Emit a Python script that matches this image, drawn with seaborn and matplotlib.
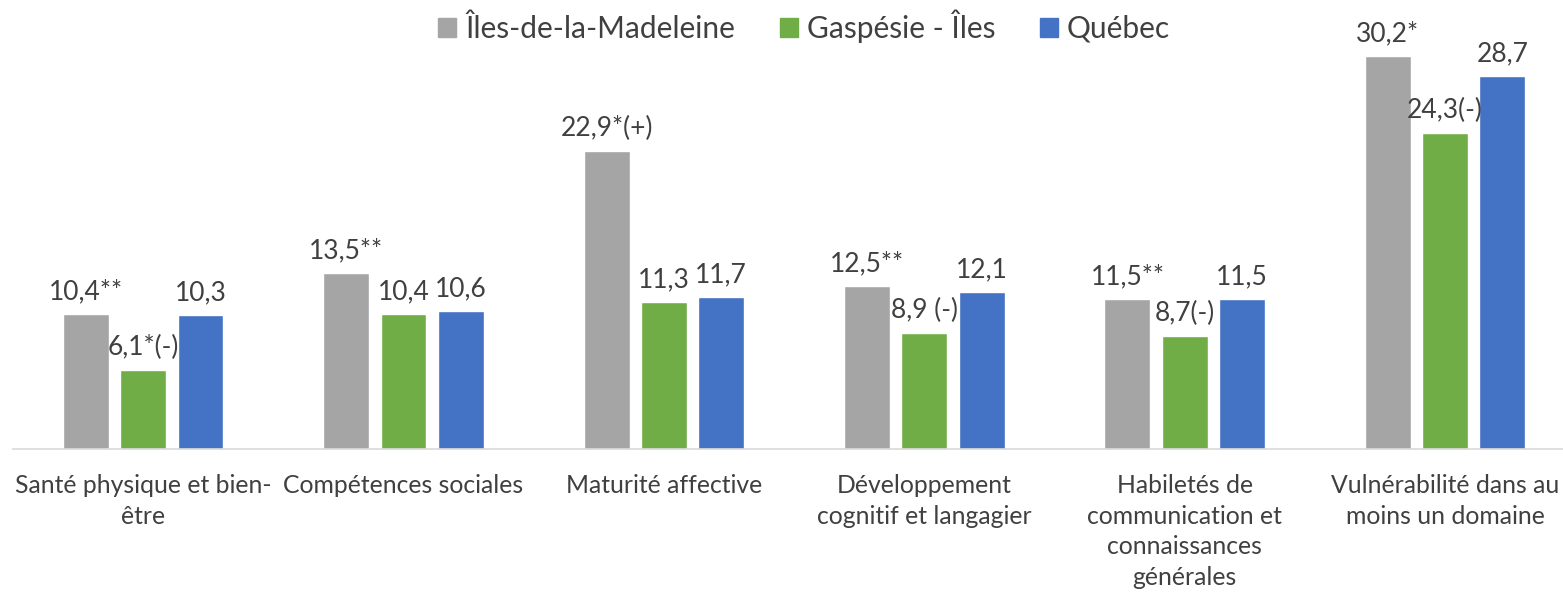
import matplotlib
matplotlib.use("Agg")
import matplotlib.pyplot as plt
import seaborn as sns
import pandas as pd

categories = ["Santé physique et bien-\nêtre", "Compétences sociales", "Maturité affective",
              "Développement\ncognitif et langagier",
              "Habiletés de\ncommunication et\nconnaissances\ngénérales",
              "Vulnérabilité dans au\nmoins un domaine"]
series = ["Îles-de-la-Madeleine", "Gaspésie - Îles", "Québec"]
iles = [10.4, 13.5, 22.9, 12.5, 11.5, 30.2]
gaspesie = [6.1, 10.4, 11.3, 8.9, 8.7, 24.3]
quebec = [10.3, 10.6, 11.7, 12.1, 11.5, 28.7]
labels_iles = ["10,4**", "13,5**", "22,9*(+)", "12,5**", "11,5**", "30,2*"]
labels_gaspesie = ["6,1*(-)", "10,4", "11,3", "8,9 (-)", "8,7(-)", "24,3(-)"]
labels_quebec = ["10,3", "10,6", "11,7", "12,1", "11,5", "28,7"]
colors = ["#A5A5A5", "#70AD47", "#4472C4"]

sns.set_style("white")
plt.rcParams['font.family'] = ['Lato', 'DejaVu Sans']

rows = []
for s, vals in zip(series, [iles, gaspesie, quebec]):
    for c, v in zip(categories, vals):
        rows.append({"cat": c, "series": s, "val": v})
df = pd.DataFrame(rows)

fig = plt.figure(figsize=(15.63, 5.96), dpi=100)
ax = fig.add_axes([13/1563, 147/596, 1 - 13/1563, (449-30)/596])
sns.barplot(data=df, x="cat", y="val", hue="series", hue_order=series, order=categories,
            palette=colors, width=0.66, gap=0.2, ax=ax, saturation=1, legend=False)

txt_color = "#404040"
for cont, labs in zip(ax.containers, [labels_iles, labels_gaspesie, labels_quebec]):
    ax.bar_label(cont, labels=labs, padding=7, fontsize=19, color=txt_color)

ax.set_xlim(-0.5, 5.453)
ax.set_ylim(0, 32.2)
ax.set_xlabel("")
ax.set_ylabel("")
ax.set_yticks([])
for sp in ["top", "right", "left"]:
    ax.spines[sp].set_visible(False)
ax.spines["bottom"].set_color("#D9D9D9")
ax.spines["bottom"].set_linewidth(1.2)
ax.tick_params(axis="x", length=0, pad=18, labelsize=17.8, labelcolor=txt_color)
for t in ax.get_xticklabels():
    t.set_linespacing(1.4)

from matplotlib.patches import Patch
handles = [Patch(facecolor=c, edgecolor=c) for c in colors]
fig.legend(handles, series, loc="center", bbox_to_anchor=(804/1563, 1 - 26/596), ncol=3,
           frameon=False, fontsize=21.5, handlelength=0.6, handleheight=0.6,
           handletextpad=0.3, columnspacing=1.5, labelcolor=txt_color)

fig.savefig("out.png", dpi=100)
